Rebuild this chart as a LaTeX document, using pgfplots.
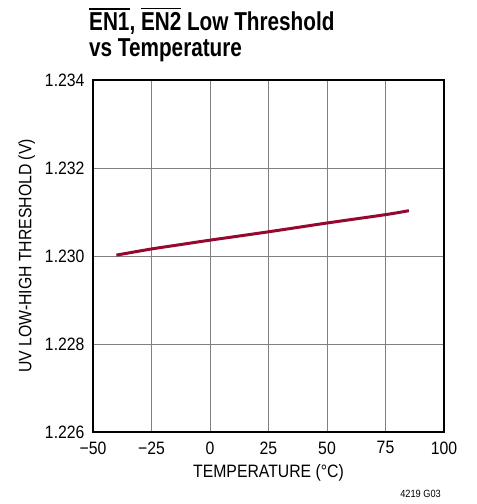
\documentclass[border=0pt]{standalone}
\usepackage{fontspec}
\setmainfont{Liberation Sans}[FakeStretch=0.88]
\newfontfamily\titlefont{Liberation Sans}[FakeStretch=0.8]
\usepackage{pgfplots}
\pgfplotsset{compat=1.18}
\definecolor{curve}{RGB}{150,8,48}
\newcommand{\ovl}[1]{\leavevmode\vbox{\hrule height 1.6bp \kern 3.5bp \hbox{#1}}}
\begin{document}
\begin{tikzpicture}
\useasboundingbox (0,0) rectangle (477bp,504bp);
\begin{axis}[
  at={(93bp,72bp)}, anchor=south west,
  scale only axis, width=351bp, height=352bp,
  xmin=-50, xmax=100, ymin=1.226, ymax=1.234,
  xtick={-50,-25,0,25,50,75,100},
  xticklabels={−50,−25,0,25,50,75,100},
  ytick={1.226,1.228,1.230,1.232,1.234},
  yticklabels={1.226,1.228,1.230,1.232,1.234},
  grid=major,
  major grid style={black!50, line width=1bp},
  axis line style={line width=1.6bp},
  major tick length=0pt,
  tick label style={font=\fontsize{18}{20}\selectfont},
  yticklabel style={xshift=-5bp},
  xticklabel style={yshift=-6bp},
  label style={font=\fontsize{18}{20}\selectfont},
  xlabel={TEMPERATURE (°C)},
  ylabel={UV LOW-HIGH THRESHOLD (V)},
  ylabel shift=3bp,
  xlabel shift=3bp,
]
\addplot[curve, line width=3bp, smooth] coordinates {
(-40,1.23002) (-25,1.23016) (-12.5,1.23026) (0,1.23036) (25,1.23055) (50,1.23075) (75,1.23094) (85,1.23103)};
\end{axis}
\node[anchor=base west, inner sep=0pt] at (89bp,473bp) {\titlefont\bfseries\fontsize{26}{26}\selectfont \ovl{EN1}, \ovl{EN2} Low Threshold};
\node[anchor=base west, inner sep=0pt] at (89bp,447bp) {\titlefont\bfseries\fontsize{26}{26}\selectfont vs Temperature};
\node[anchor=base east, inner sep=0pt] at (441bp,7bp) {\fontsize{10.5}{12}\selectfont 4219 G03};
\end{tikzpicture}
\end{document}
